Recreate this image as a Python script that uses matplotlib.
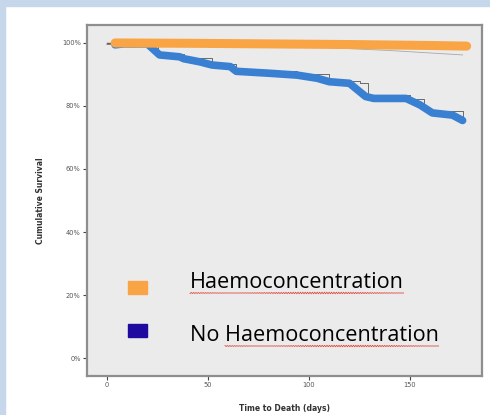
import matplotlib
matplotlib.use("Agg")
import matplotlib.pyplot as plt
from matplotlib.patches import Rectangle
import numpy as np

# survival curves (days, % surviving)
haemo_days = [4, 40, 80, 120, 160, 178]
haemo_surv = [100.0, 99.9, 99.7, 99.5, 99.2, 99.0]

no_haemo_days = [4, 8, 20, 26, 36, 38, 46, 52, 61, 64, 80, 94, 104, 110,
                 120, 128, 132, 148, 155, 161, 171, 176]
no_haemo_surv = [99.4, 99.7, 99.7, 96.2, 95.6, 95.0, 94.0, 93.0, 92.5, 91.0,
                 90.4, 89.8, 88.8, 87.7, 87.2, 83.0, 82.4, 82.4, 80.3, 77.8,
                 77.1, 75.4]

# thin Kaplan-Meier steps behind the thick lines
km_no_days = [0, 20, 25, 38, 52, 64, 94, 110, 125, 129, 138, 150, 157, 168, 176]
km_no_surv = [100.0, 99.8, 96.4, 95.3, 93.2, 91.0, 90.0, 88.0, 87.3, 83.6,
              83.6, 82.2, 78.3, 78.3, 75.5]
km_ha_days = [0, 60, 100, 140, 176]
km_ha_surv = [100.0, 99.6, 98.8, 97.6, 96.2]

y_ticks = [0, 20, 40, 60, 80, 100]
x_ticks = [0, 50, 100, 150]
legend_labels = ["Haemoconcentration", "No Haemoconcentration"]

ORANGE = "#f9a445"
BLUE = "#3a80d2"
LEG_BLUE = "#1f0aa0"

fig = plt.figure(figsize=(4.9, 4.15), dpi=100)
fig.patch.set_facecolor("white")

# light blue slide border on top and left
fig.patches.append(Rectangle((0, 1 - 6 / 415), 1, 6 / 415, transform=fig.transFigure,
                             color="#c6d7ec", zorder=0))
fig.patches.append(Rectangle((0, 0), 5 / 490, 1, transform=fig.transFigure,
                             color="#c6d7ec", zorder=0))

ax = fig.add_axes([87 / 490, 1 - 376 / 415, 395 / 490, 351 / 415])
ax.set_facecolor("#ebebeb")
for side in ax.spines.values():
    side.set_color("#8e8e8e")
    side.set_linewidth(1.6)

ax.plot(km_ha_days, km_ha_surv, color="#a8a8a8", lw=0.6, zorder=2)
ax.plot([0, 178], [99.6, 99.4], color="#555555", lw=0.7, zorder=2)
ax.step(km_no_days, km_no_surv, where="post", color="#555555", lw=0.6, zorder=2)

ax.plot(no_haemo_days, no_haemo_surv, color=BLUE, lw=5.5,
        solid_capstyle="round", solid_joinstyle="round", zorder=3)
ax.plot(haemo_days, haemo_surv, color=ORANGE, lw=6.5,
        solid_capstyle="round", zorder=4)

ax.set_xlim(-9.9, 185.6)
ax.set_ylim(-5.7, 105.7)
ax.set_xticks(x_ticks)
ax.set_yticks(y_ticks)
ax.set_yticklabels([f"{v}%" for v in y_ticks])
ax.tick_params(length=3, width=0.8, color="#444444", labelsize=4.8,
               labelcolor="#555555", pad=1.5)

ax.set_xlabel("Time to Death (days)", fontsize=5.5, fontweight="bold",
              color="#333333", labelpad=11)
ax.set_ylabel("Cumulative Survival", fontsize=5.5, fontweight="bold",
              color="#333333", labelpad=12)

# legend drawn by hand, like the pasted slide legend
texts = []
for i, (lab, col) in enumerate(zip(legend_labels, [ORANGE, LEG_BLUE])):
    yc = 1 - (287 + 43 * i) / 415
    fig.patches.append(Rectangle((128 / 490, yc - 6.5 / 415), 19 / 490, 13 / 415,
                                 transform=fig.transFigure, color=col, zorder=5))
    ty = 1 - (282 + 53 * i) / 415
    texts.append(fig.text(190 / 490, ty, lab, fontsize=15.6, family="Open Sans",
                          va="center", ha="left", color="#000000"))

# red spell-check underlines under the word "Haemoconcentration"
fig.canvas.draw()
r = fig.canvas.get_renderer()
probe = fig.text(190 / 490, 0.5, "No ", fontsize=15.6, family="Open Sans")
skip = probe.get_window_extent(r).width
probe.remove()
for t, off in zip(texts, [0, skip]):
    bb = t.get_window_extent(r)
    xs = np.arange(bb.x0 + off, bb.x1, 1.2)
    ys = bb.y0 - 0.5 + 0.8 * np.sin(xs * 2.6)
    fig.add_artist(plt.Line2D(xs / 490, ys / 415, color="#e04a40", lw=0.6,
                              transform=fig.transFigure))

fig.savefig("out.png", dpi=100)
